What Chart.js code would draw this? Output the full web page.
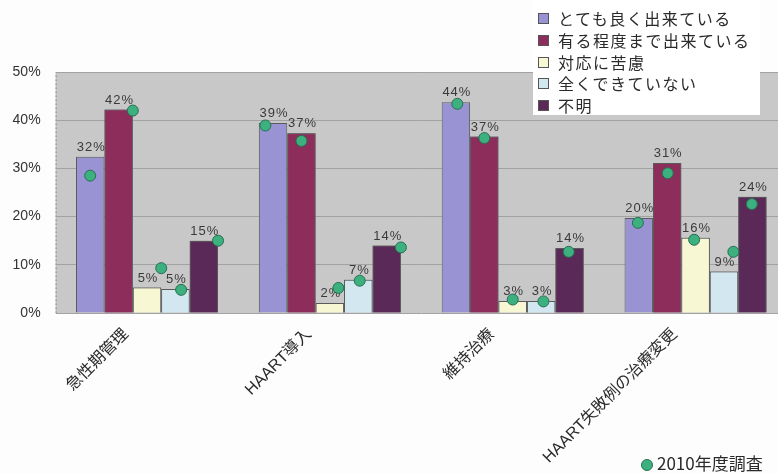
<!DOCTYPE html>
<html>
<head>
<meta charset="utf-8">
<script src="https://cdn.jsdelivr.net/npm/chart.js@4"></script>
<style>
  html, body { margin: 0; padding: 0; background: #fdfdfd; }
  #wrap { position: relative; width: 778px; height: 474px; overflow: hidden; }
  #box { position: absolute; left: 0; top: 0; width: 790px; height: 474px; }
  #legend {
    position: absolute; left: 533px; top: -2px; width: 227px; height: 117px;
    background: #fff; font-family: 'Noto Sans CJK JP', sans-serif; font-size: 16px;
    color: #2a2a2a; letter-spacing: 1.5px;
  }
  #legend div { position: absolute; left: 5px; height: 20px; line-height: 20px; white-space: nowrap; }
  #legend span.sw { display: inline-block; width: 9px; height: 9px; border: 1px solid #555;
    margin-right: 9px; vertical-align: 1px; }
  #prev { position: absolute; left: 641px; top: 450px; font-family: 'Noto Sans CJK JP', sans-serif;
    font-size: 17px; color: #2a2a2a; white-space: nowrap; line-height: 26px; }
  #prev span.dot { display: inline-block; width: 12px; height: 12px; border-radius: 50%;
    background: #3cb07f; border: 1px solid #2b6e52; margin-right: 4px; vertical-align: -1px; box-sizing: border-box; }
</style>
</head>
<body>
<div id="wrap">
  <div id="box"><canvas id="barChart" width="790" height="474"></canvas></div>
  <div id="legend"></div>
  <div id="prev"><span class="dot"></span>2010年度調査</div>
</div>
<script>
// categories and series
var categories = ['急性期管理', 'HAART導入', '維持治療', 'HAART失敗例の治療変更'];
var seriesNames = ['とても良く出来ている', '有る程度まで出来ている', '対応に苦慮', '全くできていない', '不明'];

// current survey (%)
var veryGood   = [32.4, 39.4, 43.7, 19.7];
var partly     = [42.2, 37.3, 36.6, 31.1];
var struggling = [5.3, 2.1, 2.5, 15.6];
var notAtAll   = [5.0, 6.9, 2.5, 8.6];
var unknown    = [15.0, 14.0, 13.5, 24.1];

// 2010 survey (%), shown as green dots
var veryGood2010   = [28.5, 38.9, 43.4, 18.7];
var partly2010     = [42.0, 35.7, 36.3, 29.0];
var struggling2010 = [9.3, 5.2, 2.8, 15.2];
var notAtAll2010   = [4.8, 6.7, 2.4, 12.7];
var unknown2010    = [15.0, 13.6, 12.7, 22.6];

var yTicks = [0, 10, 20, 30, 40, 50];

var seriesValues = [veryGood, partly, struggling, notAtAll, unknown];
var series2010 = [veryGood2010, partly2010, struggling2010, notAtAll2010, unknown2010];
var colors = ['#9a93d3', '#8d2d5c', '#f7f7d4', '#d2e7ef', '#5b2957'];
// where each dot sits across its bar (fraction of bar width from centre)
var dotShift = [[0, -0.27, 0.05, -0.03], [0.5, 0, 0, 0.02], [0.5, 0.3, 0, -0.05], [0.2, 0.05, 0.08, 0.33], [0.5, 0.5, -0.03, -0.02]];

var latin = "'Liberation Sans', 'Noto Sans CJK JP', sans-serif";

// html legend
var legendEl = document.getElementById('legend');
seriesNames.forEach(function(name, i) {
    var row = document.createElement('div');
    row.style.top = (10 + i * 21.8) + 'px';
    row.innerHTML = '<span class="sw" style="background:' + colors[i] + '"></span>' + name;
    legendEl.appendChild(row);
});

var plotBack = {
    id: 'plotBack',
    beforeDraw: function(chart) {
        var a = chart.chartArea, ctx = chart.ctx;
        ctx.save();
        ctx.fillStyle = '#c8c8c8';
        ctx.fillRect(a.left, a.top, a.right - a.left, a.bottom - a.top);
        ctx.setLineDash([2, 2]);
        ctx.strokeStyle = '#8a8a8a';
        ctx.lineWidth = 1;
        ctx.strokeRect(a.left + 0.5, a.top + 0.5, a.right - a.left, a.bottom - a.top);
        ctx.restore();
    }
};

var labelsAndDots = {
    id: 'labelsAndDots',
    afterDatasetsDraw: function(chart) {
        var ctx = chart.ctx, y = chart.scales.y;
        ctx.save();
        ctx.font = '13px ' + latin;
        ctx.fillStyle = '#3a3a3a';
        ctx.textAlign = 'center';
        ctx.textBaseline = 'bottom';
        ctx.letterSpacing = '1px';
        seriesValues.forEach(function(vals, i) {
            var meta = chart.getDatasetMeta(i);
            if (i > 0) meta.data.forEach(function(el) { el.draw(ctx); });
            meta.data.forEach(function(el, j) {
                ctx.fillText(Math.round(vals[j]) + '%', el.x + 1, el.y - 3);
            });
        });
        series2010.forEach(function(vals, i) {
            var meta = chart.getDatasetMeta(i);
            meta.data.forEach(function(el, j) {
                var px = el.x + dotShift[i][j] * el.width;
                var py = y.getPixelForValue(vals[j]);
                ctx.beginPath();
                ctx.arc(px, py, 5.5, 0, Math.PI * 2);
                ctx.fillStyle = '#3cb07f';
                ctx.fill();
                ctx.lineWidth = 1;
                ctx.strokeStyle = '#2b6e52';
                ctx.stroke();
            });
        });
        ctx.restore();
    }
};

var barChart = new Chart(document.getElementById('barChart').getContext('2d'), {
    type: 'bar',
    data: {
        labels: categories,
        datasets: seriesValues.map(function(vals, i) {
            return {
                label: seriesNames[i],
                data: vals,
                backgroundColor: colors[i],
                borderColor: '#5a5a5a',
                borderWidth: 1,
                categoryPercentage: 0.777,
                barPercentage: 1.0
            };
        })
    },
    options: {
        responsive: false,
        animation: false,
        layout: { padding: { top: 72, right: 3, left: 0, bottom: 0 } },
        plugins: {
            legend: { display: false },
            tooltip: { enabled: false }
        },
        scales: {
            x: {
                grid: { display: false },
                border: { display: false },
                ticks: {
                    maxRotation: 45,
                    minRotation: 45,
                    padding: 4,
                    labelOffset: -21,
                    color: '#2a2a2a',
                    font: { size: 16, family: latin }
                },
                afterFit: function(scale) { scale.height = 161; }
            },
            y: {
                min: 0,
                max: 50,
                afterBuildTicks: function(scale) {
                    scale.ticks = yTicks.map(function(v) { return { value: v }; });
                },
                grid: { color: '#a2a2a2', lineWidth: 1, drawTicks: false },
                border: { display: false },
                ticks: {
                    padding: 15,
                    color: '#333',
                    font: { size: 14, family: latin },
                    callback: function(v) { return v + '%'; }
                },
                afterFit: function(scale) { scale.width = 55.6; }
            }
        }
    },
    plugins: [plotBack, labelsAndDots]
});
</script>
</body>
</html>
